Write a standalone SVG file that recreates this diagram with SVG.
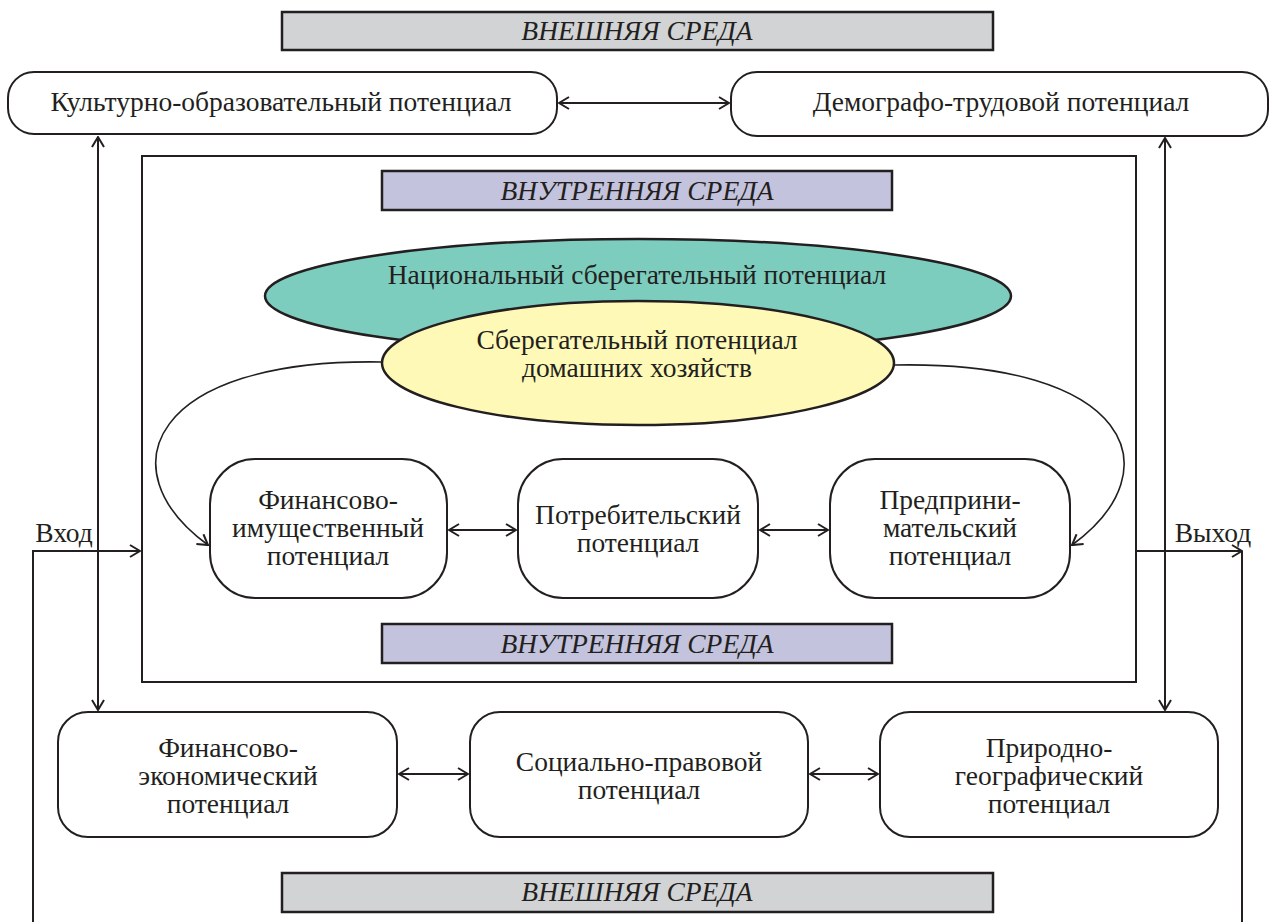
<svg xmlns="http://www.w3.org/2000/svg" width="1271" height="922" viewBox="0 0 1271 922">
<style>
text{font-family:"Liberation Serif","Times New Roman",serif;font-size:27.5px;fill:#231f20;text-anchor:middle}
.it{font-style:italic}
.box{fill:#fff;stroke:#231f20;stroke-width:2}
.gray{fill:#d1d3d4;stroke:#231f20;stroke-width:2.5}
.lav{fill:#c4c3dd;stroke:#231f20;stroke-width:2.5}
.ln{fill:none;stroke:#231f20;stroke-width:2}
.thin{fill:none;stroke:#231f20;stroke-width:1.6}
</style>
<defs>
<marker id="ah" viewBox="0 0 12 14" refX="11" refY="7" markerWidth="12" markerHeight="14" markerUnits="userSpaceOnUse" orient="auto-start-reverse">
<path d="M1,1 L11,7 L1,13" fill="none" stroke="#231f20" stroke-width="2"/>
</marker>
</defs>
<g id="ext-top"><rect class="gray" x="282" y="12" width="711" height="38"/><text class="it" x="637" y="40">ВНЕШНЯЯ СРЕДА</text></g>
<g id="inner-frame"><rect class="ln" x="142" y="156" width="994" height="526"/></g>
<g id="int-top"><rect class="lav" x="382" y="171" width="510" height="39"/><text class="it" x="637" y="200">ВНУТРЕННЯЯ СРЕДА</text></g>
<g id="int-bottom"><rect class="lav" x="382" y="624" width="510" height="39"/><text class="it" x="637" y="653">ВНУТРЕННЯЯ СРЕДА</text></g>
<g id="ext-bottom"><rect class="gray" x="282" y="873" width="711" height="39"/><text class="it" x="637" y="901">ВНЕШНЯЯ СРЕДА</text></g>
<g id="cult"><rect class="box" x="8" y="72" width="549" height="62" rx="26"/><text x="281" y="111">Культурно-образовательный потенциал</text></g>
<g id="demo"><rect class="box" x="731" y="72" width="537" height="64" rx="26"/><text x="1001" y="111">Демографо-трудовой потенциал</text></g>
<g id="national"><ellipse cx="638" cy="296" rx="373" ry="57" fill="#7dcdbf" stroke="#231f20" stroke-width="2.5"/><text x="637" y="284">Национальный сберегательный потенциал</text></g>
<g id="household"><ellipse cx="638" cy="363" rx="256" ry="62" fill="#fef9b7" stroke="#231f20" stroke-width="2.5"/><text x="637" y="349">Сберегательный потенциал</text><text x="637" y="377">домашних хозяйств</text></g>
<g id="finprop"><rect class="box" x="210" y="459" width="237" height="139" rx="45"/><text x="328" y="509">Финансово-</text><text x="328" y="537">имущественный</text><text x="328" y="565">потенциал</text></g>
<g id="consumer"><rect class="box" x="518" y="459" width="240" height="139" rx="45"/><text x="638" y="524">Потребительский</text><text x="638" y="552">потенциал</text></g>
<g id="entre"><rect class="box" x="830" y="459" width="240" height="139" rx="45"/><text x="950" y="509">Предприни-</text><text x="950" y="537">мательский</text><text x="950" y="565">потенциал</text></g>
<g id="fineco"><rect class="box" x="58" y="712" width="339" height="125" rx="30"/><text x="228" y="757">Финансово-</text><text x="228" y="785">экономический</text><text x="228" y="813">потенциал</text></g>
<g id="social"><rect class="box" x="470" y="712" width="338" height="125" rx="30"/><text x="639" y="771">Социально-правовой</text><text x="639" y="799">потенциал</text></g>
<g id="nature"><rect class="box" x="880" y="712" width="338" height="125" rx="30"/><text x="1049" y="757">Природно-</text><text x="1049" y="785">географический</text><text x="1049" y="813">потенциал</text></g>
<g id="labels"><text x="64" y="542">Вход</text><text x="1213" y="542">Выход</text></g>
<g id="connectors">
<line class="ln" x1="559" y1="103" x2="729" y2="103" marker-start="url(#ah)" marker-end="url(#ah)"/>
<line class="ln" x1="98" y1="137" x2="98" y2="710" marker-start="url(#ah)" marker-end="url(#ah)"/>
<line class="ln" x1="1165" y1="138" x2="1165" y2="710" marker-start="url(#ah)" marker-end="url(#ah)"/>
<line class="ln" x1="449" y1="530" x2="516" y2="530" marker-start="url(#ah)" marker-end="url(#ah)"/>
<line class="ln" x1="760" y1="530" x2="828" y2="530" marker-start="url(#ah)" marker-end="url(#ah)"/>
<line class="ln" x1="399" y1="774" x2="468" y2="774" marker-start="url(#ah)" marker-end="url(#ah)"/>
<line class="ln" x1="810" y1="774" x2="878" y2="774" marker-start="url(#ah)" marker-end="url(#ah)"/>
<path class="thin" d="M382,362 C150,358 105,470 208,545" marker-end="url(#ah)"/>
<path class="thin" d="M894,365 C1130,360 1175,470 1072,545" marker-end="url(#ah)"/>
<path class="ln" d="M33,922 L33,551 L140,551" marker-end="url(#ah)"/>
<path class="ln" d="M1136,551 L1242,551" marker-end="url(#ah)"/>
<line class="ln" x1="1242" y1="551" x2="1242" y2="922"/>
</g>
</svg>
